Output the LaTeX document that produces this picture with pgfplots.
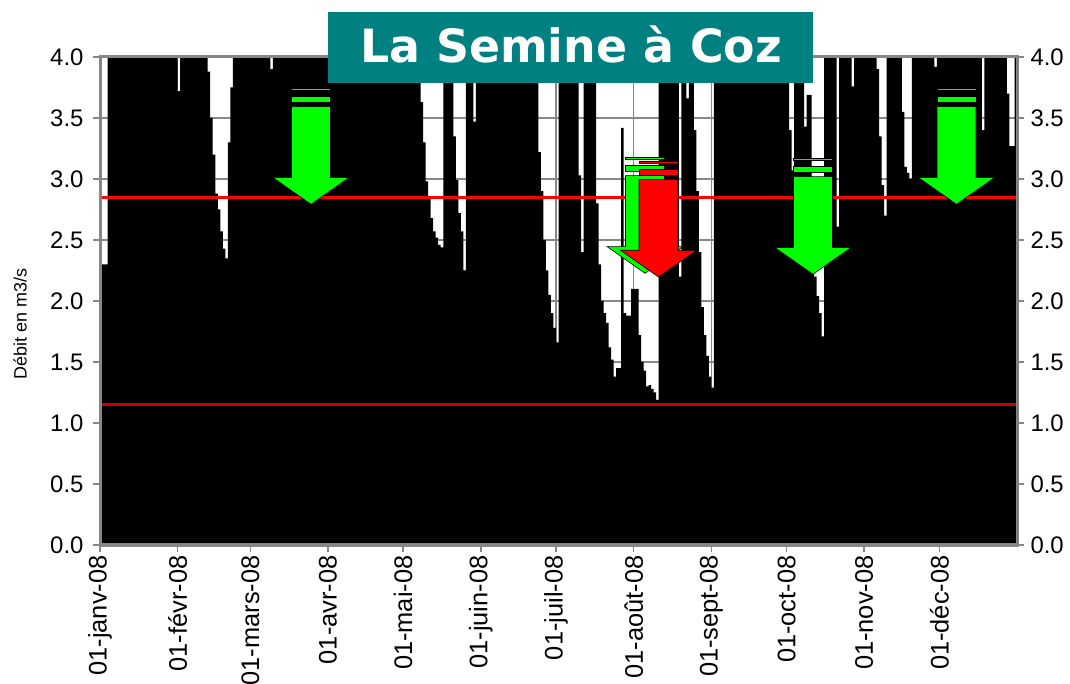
\documentclass[border=0pt]{standalone}
\usepackage{fontspec}
\setmainfont{Liberation Sans}
\newfontfamily\titlefont{DejaVu Sans}
\usepackage{pgfplots}
\pgfplotsset{compat=1.18}
\definecolor{gridgray}{RGB}{135,135,135}
\definecolor{titleteal}{RGB}{0,128,128}
\definecolor{arrgreen}{RGB}{0,255,0}
\definecolor{arrred}{RGB}{255,0,0}
\definecolor{lowred}{RGB}{200,0,0}
\newcommand\sarrow[3]{%
  \filldraw[fill=#3, draw=black, line width=0.6bp] (#1-19.5,#2) rectangle (#1+19.5,#2+2);
  \filldraw[fill=#3, draw=black, line width=0.6bp] (#1-19.5,#2+8.4) rectangle (#1+19.5,#2+14.2);
  \filldraw[fill=#3, draw=black, line width=0.6bp] (#1-19.5,#2+18.4) -- (#1+19.5,#2+18.4) -- (#1+19.5,#2+89.3) -- (#1+38,#2+89.3) -- (#1,#2+116) -- (#1-38,#2+89.3) -- (#1-19.5,#2+89.3) -- cycle;
}
\pgfplotsset{ylabs/.style={
  /pgf/number format/fixed, /pgf/number format/fixed zerofill,
  /pgf/number format/precision=1, /pgf/number format/assume math mode=true,
  yticklabel style={font=\fontsize{24}{26}\selectfont}}}
\begin{document}
\begin{tikzpicture}
\useasboundingbox (0,0) rectangle (1070bp,684bp);
\begin{axis}[
  at={(100bp,139bp)}, anchor=south west,
  scale only axis, width=917bp, height=488bp,
  xmin=0, xmax=366, ymin=0, ymax=4,
  xtick={0,31,60,91,121,152,182,213,244,274,305,335},
  xticklabels={01-janv-08,01-févr-08,01-mars-08,01-avr-08,01-mai-08,01-juin-08,01-juil-08,01-août-08,01-sept-08,01-oct-08,01-nov-08,01-déc-08},
  xticklabel style={rotate=90, anchor=east, font=\fontsize{25.5}{27}\selectfont},
  ytick={0,0.5,1,1.5,2,2.5,3,3.5,4},
  ylabs,
  yticklabel style={xshift=-6bp},
  xtick pos=left, ytick pos=both, yticklabel pos=left,
  tick align=outside, major tick length=7bp,
  tick style={gridgray, line width=1.5bp},
  grid=major, major grid style={gridgray, line width=1.6bp},
  axis line style={gridgray, line width=3bp},
  clip=true,
]
\addplot[const plot mark left, fill=black, draw=none] table {
x y
0 2.3
3 4
31 3.72
32 4
43 3.88
44 3.5
45 3.2
46 2.88
47 2.75
48 2.57
49 2.43
50 2.35
51 3.3
52 3.75
53 4
68 3.9
69 4
128 3.63
129 3.3
130 2.98
131 2.84
132 2.68
133 2.57
134 2.52
135 2.46
136 2.44
137 4
141 3.35
142 2.99
143 2.72
144 2.57
145 2.25
146 4
149 3.47
150 4
175 3.22
176 2.9
177 2.5
178 2.25
179 2.05
180 1.9
181 1.78
182 1.66
183 4
191 3.03
192 2.4
193 4
198 2.8
199 2.3
200 2.0
201 1.9
202 1.82
203 1.62
204 1.52
205 1.38
206 1.45
207 1.45
208 3.42
209 1.9
210 1.88
212 2.1
215 1.72
216 1.5
217 1.43
218 1.3
219 1.31
220 1.28
221 1.25
222 1.19
223 4
231 2.2
232 4
234 3.66
235 4
237 3.4
238 2.9
239 2.4
240 1.95
241 1.72
242 1.55
243 1.38
244 1.29
245 4
275 3.4
276 3.07
277 4
281 3.43
282 3.69
284 2.9
285 2.2
286 2.04
287 1.9
288 1.71
289 4
294 2.61
295 4
300 3.76
301 4
310 3.9
311 3.35
312 2.95
313 2.7
314 4
320 3.55
321 3.1
322 3.05
323 3.0
324 4
333 3.92
334 4
352 3.4
353 4
362 3.7
363 3.27
365 4
366 4
} \closedcycle;
\addplot[arrred, line width=3.5bp] coordinates {(0,2.85) (366,2.85)};
\addplot[lowred, line width=3bp] coordinates {(0,1.155) (366,1.155)};
\draw[gridgray, line width=3bp] (rel axis cs:0,0) rectangle (rel axis cs:1,1);
\end{axis}
\begin{axis}[
  at={(100bp,139bp)}, anchor=south west,
  scale only axis, width=917bp, height=488bp,
  xmin=0, xmax=366, ymin=0, ymax=4,
  hide x axis,
  axis y line*=right,
  axis line style={draw=none},
  ytick={0,0.5,1,1.5,2,2.5,3,3.5,4},
  ylabs,
  yticklabel style={xshift=3bp},
  tick align=outside, major tick length=7bp,
  tick style={gridgray, line width=1.5bp},
]
\addplot[draw=none] coordinates {(0,0)};
\end{axis}
\node[rotate=90, font=\fontsize{18}{20}\selectfont] at (20bp,360bp) {Débit en m3/s};
\begin{scope}[x=1bp, y=-1bp, shift={(0,684bp)}]
\sarrow{311}{88.3}{arrgreen}
\sarrow{956.5}{88.3}{arrgreen}
\sarrow{813}{158.3}{arrgreen}
\sarrow{645}{157.3}{arrgreen}
\sarrow{658.5}{161}{arrred}
\fill[titleteal] (328,12) rectangle (813,83);
\node[anchor=base, text=white, font=\titlefont\bfseries\fontsize{46}{50}\selectfont, inner sep=0] at (571,63) {La Semine à Coz};
\end{scope}
\end{tikzpicture}
\end{document}
